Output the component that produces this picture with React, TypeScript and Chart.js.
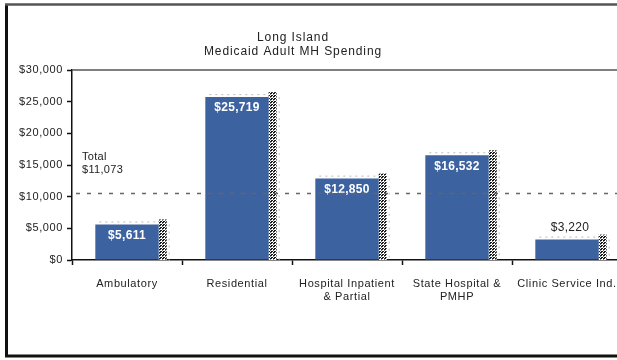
import React, { useEffect, useRef } from "react";
import { Chart, registerables } from "chart.js";

Chart.register(...registerables);

const categories: string[][] = [
  ["Ambulatory"],
  ["Residential"],
  ["Hospital Inpatient", "& Partial"],
  ["State Hospital &", "PMHP"],
  ["Clinic Service Ind."],
];
const spending: number[] = [5611, 25719, 12850, 16532, 3220];
const valueLabels: string[] = ["$5,611", "$25,719", "$12,850", "$16,532", "$3,220"];
const totalLineValue = 10500;
const totalLabel: string[] = ["Total", "$11,073"];
const titleLines: string[] = ["Long Island", "Medicaid Adult MH Spending"];
const yMin = 0;
const yMax = 30000;
const yStep = 5000;

const FONT = "'Liberation Sans', Arial, sans-serif";
const BAR = "#3D62A0";
const TEXT = "#222222";

function makePattern(ctx: CanvasRenderingContext2D) {
  const c = document.createElement("canvas");
  c.width = 3;
  c.height = 3;
  const p = c.getContext("2d")!;
  p.fillStyle = "#ffffff";
  p.fillRect(0, 0, 3, 3);
  p.fillStyle = "#1a1a1a";
  p.fillRect(0, 0, 2, 1);
  p.fillRect(1, 2, 2, 1);
  p.fillStyle = "#777";
  p.fillRect(0, 1, 1, 1);
  return ctx.createPattern(c, "repeat");
}

const decor = {
  id: "decor",
  beforeDraw(chart: any) {
    const ctx = chart.ctx as CanvasRenderingContext2D;
    (ctx as any).letterSpacing = "0.6px";
    ctx.save();
    ctx.fillStyle = "#fff";
    ctx.fillRect(0, 0, chart.width, chart.height);
    ctx.restore();
  },
  beforeDatasetsDraw(chart: any) {
    const ctx = chart.ctx as CanvasRenderingContext2D;
    const meta = chart.getDatasetMeta(0);
    const y = chart.scales.y;
    const pat = makePattern(ctx);
    ctx.save();
    meta.data.forEach((bar: any) => {
      const right = bar.x + bar.width / 2;
      ctx.fillStyle = pat as any;
      ctx.fillRect(right, bar.y - 5, 8, y.getPixelForValue(0) - bar.y + 5);
      ctx.fillStyle = "#bbb";
      for (let xx = bar.x - bar.width / 2 + 4; xx < right; xx += 6) {
        ctx.fillRect(xx, bar.y - 3, 2, 1);
      }
      for (let yy = bar.y; yy < y.getPixelForValue(0); yy += 7) {
        ctx.fillRect(right + 10, yy, 1, 2);
      }
    });
    ctx.restore();
  },
  afterDatasetsDraw(chart: any) {
    const ctx = chart.ctx as CanvasRenderingContext2D;
    const meta = chart.getDatasetMeta(0);
    const area = chart.chartArea;
    const y = chart.scales.y;
    ctx.save();
    (ctx as any).letterSpacing = "0.3px";
    meta.data.forEach((bar: any, i: number) => {
      ctx.textAlign = "center";
      ctx.textBaseline = "middle";
      if (i === meta.data.length - 1) {
        ctx.font = `12px ${FONT}`;
        ctx.fillStyle = TEXT;
        ctx.fillText(valueLabels[i], bar.x + 3, bar.y - 12);
      } else {
        ctx.font = `bold 12px ${FONT}`;
        ctx.fillStyle = "#ffffff";
        ctx.fillText(valueLabels[i], bar.x, bar.y + 11);
      }
    });
    const ty = y.getPixelForValue(totalLineValue);
    ctx.strokeStyle = "#666";
    ctx.lineWidth = 1.5;
    ctx.setLineDash([4, 7]);
    ctx.beginPath();
    ctx.moveTo(area.left + 4, ty);
    ctx.lineTo(chart.width, ty);
    ctx.stroke();
    ctx.setLineDash([]);
    ctx.font = `11px ${FONT}`;
    ctx.fillStyle = TEXT;
    ctx.textAlign = "left";
    ctx.textBaseline = "middle";
    ctx.fillText(totalLabel[0], area.left + 10, 157);
    ctx.fillText(totalLabel[1], area.left + 10, 170);
    (ctx as any).letterSpacing = "0.9px";
    ctx.font = `12px ${FONT}`;
    ctx.textAlign = "center";
    ctx.fillText(titleLines[0], 293, 38);
    ctx.fillText(titleLines[1], 293, 52);
    ctx.strokeStyle = "#555";
    ctx.lineWidth = 1.5;
    ctx.beginPath();
    ctx.moveTo(area.left, area.top);
    ctx.lineTo(chart.width, area.top);
    ctx.stroke();
    ctx.strokeStyle = "#111";
    ctx.lineWidth = 3;
    ctx.beginPath();
    ctx.moveTo(chart.width + 5, 356);
    ctx.lineTo(6.5, 356);
    ctx.lineTo(6.5, 5);
    ctx.stroke();
    ctx.strokeStyle = "#555";
    ctx.lineWidth = 2.5;
    ctx.beginPath();
    ctx.moveTo(5, 4.5);
    ctx.lineTo(chart.width + 5, 4.5);
    ctx.stroke();
    ctx.restore();
  },
};

export default function App() {
  const ref = useRef<HTMLCanvasElement | null>(null);
  useEffect(() => {
    if (!ref.current) return;
    const chart = new Chart(ref.current, {
      type: "bar",
      data: {
        labels: categories,
        datasets: [
          {
            data: spending,
            backgroundColor: BAR,
            borderWidth: 0,
            barPercentage: 0.72,
            categoryPercentage: 0.8,
          },
        ],
      },
      options: {
        responsive: false,
        animation: false,
        devicePixelRatio: 1,
        layout: { padding: { left: 0, right: 38, top: 70, bottom: 0 } },
        plugins: {
          legend: { display: false },
          tooltip: { enabled: false },
          title: { display: false },
        },
        scales: {
          x: {
            afterFit: (s: any) => {
              s.height = 100;
            },
            grid: {
              offset: true,
              drawOnChartArea: false,
              drawTicks: true,
              tickLength: 5,
              tickColor: "#111",
              tickWidth: 1.5,
            },
            border: { display: true, color: "#111", width: 1.5 },
            ticks: {
              color: TEXT,
              font: { family: FONT, size: 11 },
              padding: 12,
              maxRotation: 0,
              minRotation: 0,
              autoSkip: false,
            },
          },
          y: {
            min: yMin,
            max: yMax,
            afterFit: (s: any) => {
              s.width = 72;
            },
            grid: {
              drawOnChartArea: false,
              drawTicks: true,
              tickLength: 5,
              tickColor: "#111",
              tickWidth: 1.5,
            },
            border: { display: true, color: "#111", width: 1.5 },
            ticks: {
              stepSize: yStep,
              color: TEXT,
              font: { family: FONT, size: 11 },
              padding: 4,
              callback: (v: any) => "$" + Number(v).toLocaleString("en-US"),
            },
          },
        },
      },
      plugins: [decor],
    });
    return () => chart.destroy();
  }, []);
  return (
    <div
      style={{
        position: "fixed",
        left: 0,
        top: 0,
        width: 617,
        height: 360,
        overflow: "hidden",
        background: "#fff",
      }}
    >
      <canvas ref={ref} width={660} height={360} style={{ display: "block" }} />
    </div>
  );
}
